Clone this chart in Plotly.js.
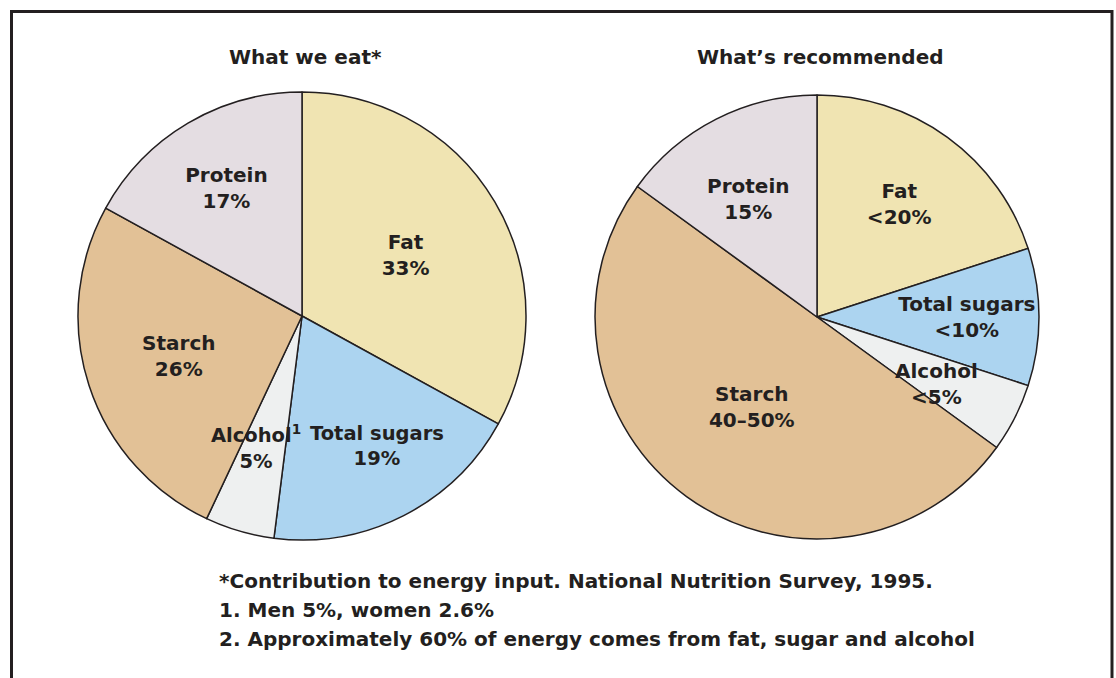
<!DOCTYPE html>
<html>
<head>
<meta charset="utf-8">
<script src="https://cdn.plot.ly/plotly-3.0.1.min.js"></script>
<style>html,body{margin:0;padding:0;background:#fff}#chart{width:1116px;height:678px}</style>
</head>
<body>
<div id="chart"></div>
<script>
// Data
const categories = ["Fat", "Total sugars", "Alcohol", "Starch", "Protein"];
const eatValues = [33, 19, 5, 26, 17];
const eatLabels = ["Fat<br>33%", "Total sugars<br>19%", "Alcohol<sup>1</sup><br>5%", "Starch<br>26%", "Protein<br>17%"];
const recValues = [20, 10, 5, 50, 15];
const recLabels = ["Fat<br>&lt;20%", "Total sugars<br>&lt;10%", "Alcohol<br>&lt;5%", "Starch<br>40–50%", "Protein<br>15%"];
const titles = ["What we eat*", "What’s recommended"];
const footnotes = [
  "*Contribution to energy input. National Nutrition Survey, 1995.",
  "1. Men 5%, women 2.6%",
  "2. Approximately 60% of energy comes from fat, sugar and alcohol"
];

// Styles
const colors = ["#f0e4b2", "#acd4f0", "#eef0f0", "#e2c196", "#e4dde2"];
const ink = "#231f20";
const font = "DejaVu Sans, sans-serif";
const W = 1116, H = 678;
// labels placed by hand (pie index, slice index, pixel centre)
const manualLabels = [
  {pie: 0, slice: 1, px: 377, py: 446, size: 19.5},
  {pie: 0, slice: 2, px: 256, py: 447, size: 19.5},
  {pie: 1, slice: 2, px: 936, py: 384, size: 20},
  {pie: 1, slice: 4, px: 748, py: 199, size: 20}
];
const allLabels = [eatLabels, recLabels];

function pie(values, text, dom, pieIdx) {
  const shown = text.map((t, i) => manualLabels.some(m => m.pie === pieIdx && m.slice === i) ? "" : t);
  return {
    type: "pie", values: values, labels: categories, text: shown,
    textinfo: "text", textposition: "inside", insidetextorientation: "horizontal",
    textfont: {family: font, size: 20, color: ink, weight: "bold"},
    sort: false, direction: "clockwise", rotation: 0,
    marker: {colors: colors, line: {color: ink, width: 1.5}},
    domain: dom, hoverinfo: "none", showlegend: false
  };
}

const data = [
  pie(eatValues, eatLabels, {x: [78 / W, 526 / W], y: [1 - 540 / H, 1 - 92 / H]}, 0),
  pie(recValues, recLabels, {x: [595 / W, 1039 / W], y: [1 - 540 / H, 1 - 94 / H]}, 1)
];

const annotations = [
  {text: "<b>" + titles[0] + "</b>", x: 305 / W, y: 1 - 57 / H},
  {text: "<b>" + titles[1] + "</b>", x: 820 / W, y: 1 - 57 / H}
].map(a => Object.assign(a, {xref: "paper", yref: "paper", showarrow: false,
  xanchor: "center", yanchor: "middle", font: {family: font, size: 20, color: ink}}));

manualLabels.forEach(m => annotations.push({
  text: "<b>" + allLabels[m.pie][m.slice] + "</b>", xref: "paper", yref: "paper",
  x: m.px / W, y: 1 - m.py / H, xanchor: "center", yanchor: "middle", showarrow: false,
  font: {family: font, size: m.size, color: ink}
}));

footnotes.forEach((t, i) => annotations.push({
  text: "<b>" + t + "</b>", xref: "paper", yref: "paper", x: 217 / W, y: 1 - (581 + i * 29) / H,
  xanchor: "left", yanchor: "middle", showarrow: false,
  font: {family: font, size: 20, color: ink}
}));

const layout = {
  width: W, height: H, margin: {l: 0, r: 0, t: 0, b: 0},
  paper_bgcolor: "#fff", plot_bgcolor: "#fff",
  uniformtext: {mode: "show", minsize: 20},
  annotations: annotations,
  shapes: [{type: "rect", xref: "paper", yref: "paper",
    x0: 11.5 / W, x1: 1112 / W, y0: -0.05, y1: 1 - 11.5 / H,
    line: {color: ink, width: 3}, fillcolor: "rgba(0,0,0,0)"}]
};

Plotly.newPlot("chart", data, layout, {displayModeBar: false, staticPlot: true});
</script>
</body>
</html>
